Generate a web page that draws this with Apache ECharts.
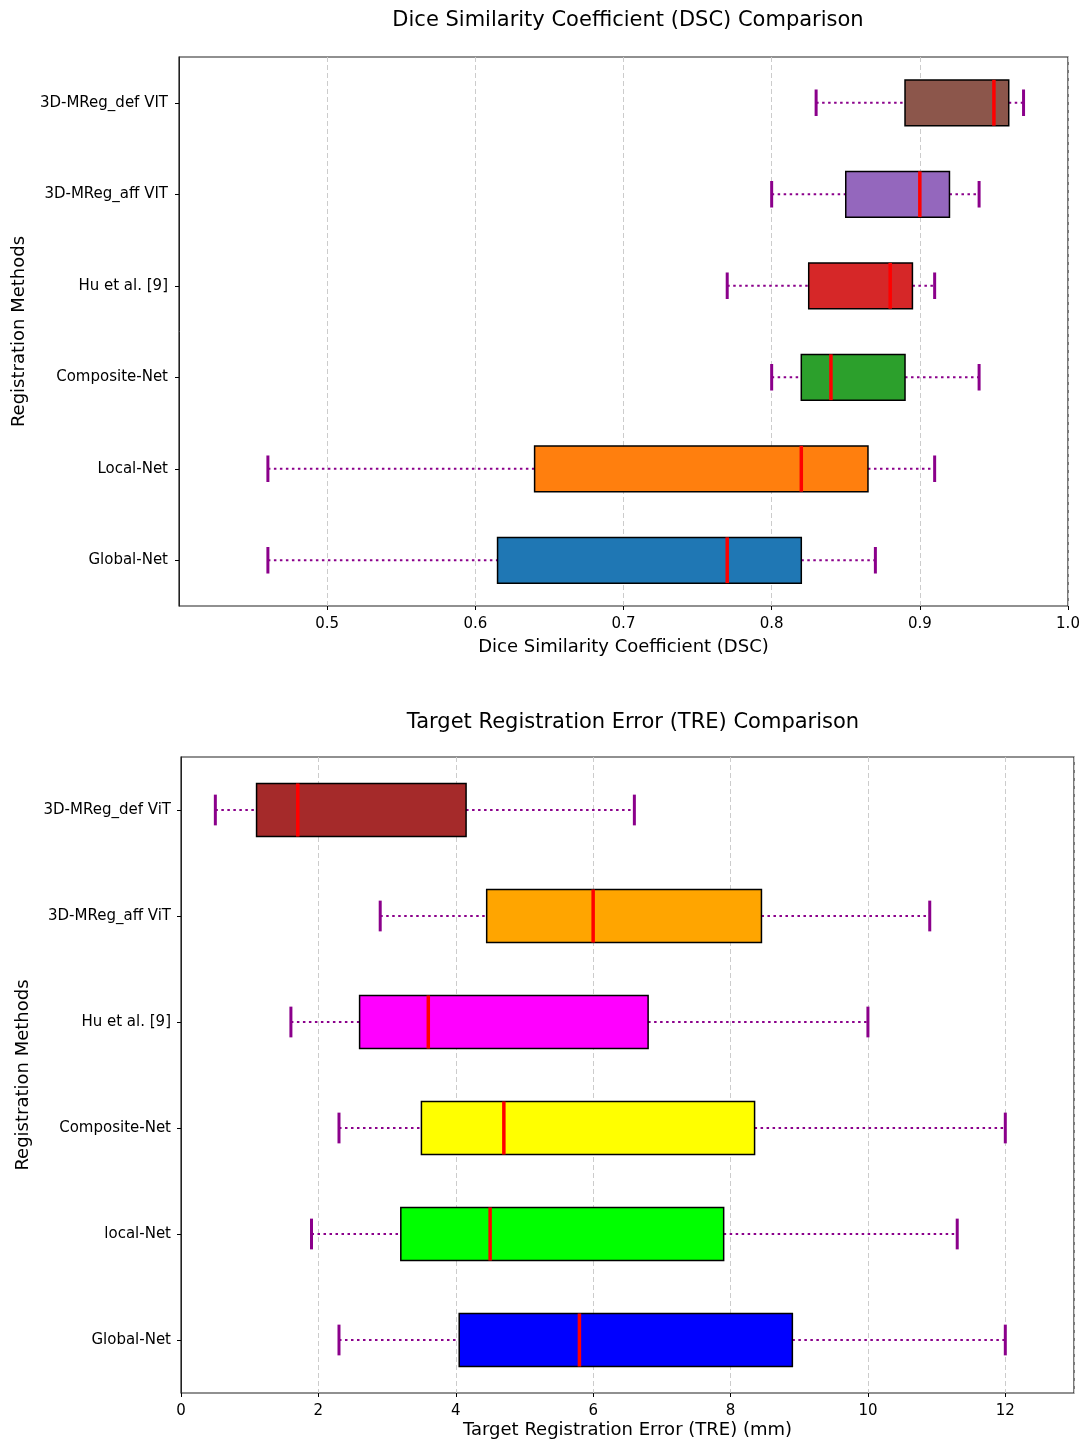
<!DOCTYPE html>
<html>
<head>
<meta charset="utf-8">
<script src="https://cdn.jsdelivr.net/npm/echarts@6/dist/echarts.min.js"></script>
<style>
  html, body { margin: 0; padding: 0; background: #fff; }
  #chart { width: 1088px; height: 1443px; }
</style>
</head>
<body>
<div id="chart"></div>
<script>
// DSC data (bottom to top)
const dscMethods = ['Global-Net', 'Local-Net', 'Composite-Net', 'Hu et al. [9]', '3D-MReg_aff VIT', '3D-MReg_def VIT']
const dscMin = [0.46, 0.46, 0.80, 0.77, 0.80, 0.83]
const dscQ1 = [0.615, 0.64, 0.82, 0.825, 0.85, 0.89]
const dscMedian = [0.77, 0.82, 0.84, 0.88, 0.90, 0.95]
const dscQ3 = [0.82, 0.865, 0.89, 0.895, 0.92, 0.96]
const dscMax = [0.87, 0.91, 0.94, 0.91, 0.94, 0.97]

// TRE data (bottom to top)
const treMethods = ['Global-Net', 'local-Net', 'Composite-Net', 'Hu et al. [9]', '3D-MReg_aff ViT', '3D-MReg_def ViT']
const treMin = [2.3, 1.9, 2.3, 1.6, 2.9, 0.5]
const treQ1 = [4.05, 3.2, 3.5, 2.6, 4.45, 1.1]
const treMedian = [5.8, 4.5, 4.7, 3.6, 6.0, 1.7]
const treQ3 = [8.9, 7.9, 8.35, 6.8, 8.45, 4.15]
const treMax = [12, 11.3, 12, 10, 10.9, 6.6]

const dscColors = ['#1f77b4', '#ff7f0e', '#2ca02c', '#d62728', '#9467bd', '#8c564b']
const treColors = ['#0000ff', '#00ff00', '#ffff00', '#ff00ff', '#ffa500', '#a52a2a']

const FONT = 'DejaVu Sans'
const WHISKER = '#8b008b'

function boxRows (min, q1, med, q3, max) {
  return min.map((v, i) => [i, v, q1[i], med[i], q3[i], max[i]])
}

function makeRenderer (colors) {
  return function (params, api) {
    const cat = api.value(0)
    const lo = api.coord([api.value(1), cat])
    const b1 = api.coord([api.value(2), cat])
    const md = api.coord([api.value(3), cat])
    const b3 = api.coord([api.value(4), cat])
    const hi = api.coord([api.value(5), cat])
    const band = api.size([0, 1])[1]
    const h = band * 0.5
    const cap = h * 0.29
    const y = lo[1]
    const dotted = { stroke: WHISKER, lineWidth: 2, lineDash: [2.5, 3.5] }
    const solid = { stroke: WHISKER, lineWidth: 3 }
    return {
      type: 'group',
      children: [
        { type: 'line', shape: { x1: lo[0], y1: y, x2: b1[0], y2: y }, style: dotted },
        { type: 'line', shape: { x1: b3[0], y1: y, x2: hi[0], y2: y }, style: dotted },
        { type: 'line', shape: { x1: lo[0], y1: y - cap, x2: lo[0], y2: y + cap }, style: solid },
        { type: 'line', shape: { x1: hi[0], y1: y - cap, x2: hi[0], y2: y + cap }, style: solid },
        {
          type: 'rect',
          shape: { x: b1[0], y: y - h / 2, width: b3[0] - b1[0], height: h },
          style: { fill: colors[params.dataIndex], stroke: '#000', lineWidth: 1.5 }
        },
        { type: 'line', shape: { x1: md[0], y1: y - h / 2, x2: md[0], y2: y + h / 2 }, style: { stroke: '#ff0000', lineWidth: 3.5 } }
      ]
    }
  }
}

const labelStyle = { fontFamily: FONT, fontSize: 15, color: '#000' }
const nameStyle = { fontFamily: FONT, fontSize: 18, color: '#000' }
const titleStyle = { fontFamily: FONT, fontSize: 21, fontWeight: 'normal', color: '#000' }
const gridLine = { show: true, lineStyle: { color: '#cccccc', type: [5, 3], width: 1 } }

const chart = echarts.init(document.getElementById('chart'))
chart.setOption({
  animation: false,
  backgroundColor: '#fff',
  title: [
    {
      text: 'Dice Similarity Coefficient (DSC) Comparison',
      left: 623, top: 5, textAlign: 'center', textStyle: titleStyle
    },
    {
      text: 'Target Registration Error (TRE) Comparison',
      left: 628, top: 707, textAlign: 'center', textStyle: titleStyle
    }
  ],
  grid: [
    { left: 179, right: 20, top: 57, height: 549, show: true, borderColor: '#222', borderWidth: 1.2, backgroundColor: 'transparent' },
    { left: 181, right: 14, top: 757, height: 636, show: true, borderColor: '#222', borderWidth: 1.2, backgroundColor: 'transparent' }
  ],
  xAxis: [
    {
      type: 'value', gridIndex: 0, min: 0.4, max: 1.0, interval: 0.1,
      name: 'Dice Similarity Coefficient (DSC)', nameLocation: 'middle', nameGap: 32, nameTextStyle: nameStyle,
      axisLine: { lineStyle: { color: '#222' } },
      axisTick: { show: true, length: 4, lineStyle: { color: '#000' } },
      axisLabel: Object.assign({ showMinLabel: false, margin: 11, formatter: v => v.toFixed(1) }, labelStyle),
      splitLine: gridLine
    },
    {
      type: 'value', gridIndex: 1, min: 0, max: 13, interval: 2,
      name: 'Target Registration Error (TRE) (mm)', nameLocation: 'middle', nameGap: 28, nameTextStyle: nameStyle,
      axisLine: { lineStyle: { color: '#222' } },
      axisTick: { show: true, length: 4, lineStyle: { color: '#000' } },
      axisLabel: Object.assign({ margin: 11, showMaxLabel: false }, labelStyle),
      splitLine: gridLine
    }
  ],
  yAxis: [
    {
      type: 'category', gridIndex: 0, data: dscMethods,
      name: 'Registration Methods', nameLocation: 'middle', nameRotate: 90, nameGap: 151, nameTextStyle: nameStyle,
      axisLine: { lineStyle: { color: '#222' } },
      axisTick: { show: true, alignWithLabel: true, length: 4, lineStyle: { color: '#000' } },
      axisLabel: Object.assign({ margin: 11 }, labelStyle),
      splitLine: { show: false }
    },
    {
      type: 'category', gridIndex: 1, data: treMethods,
      name: 'Registration Methods', nameLocation: 'middle', nameRotate: 90, nameGap: 147, nameTextStyle: nameStyle,
      axisLine: { lineStyle: { color: '#222' } },
      axisTick: { show: true, alignWithLabel: true, length: 4, lineStyle: { color: '#000' } },
      axisLabel: Object.assign({ margin: 10 }, labelStyle),
      splitLine: { show: false }
    }
  ],
  series: [
    {
      type: 'custom', xAxisIndex: 0, yAxisIndex: 0,
      renderItem: makeRenderer(dscColors),
      encode: { x: [1, 2, 3, 4, 5], y: 0 },
      data: boxRows(dscMin, dscQ1, dscMedian, dscQ3, dscMax)
    },
    {
      type: 'custom', xAxisIndex: 1, yAxisIndex: 1,
      renderItem: makeRenderer(treColors),
      encode: { x: [1, 2, 3, 4, 5], y: 0 },
      data: boxRows(treMin, treQ1, treMedian, treQ3, treMax)
    }
  ]
})
</script>
</body>
</html>
